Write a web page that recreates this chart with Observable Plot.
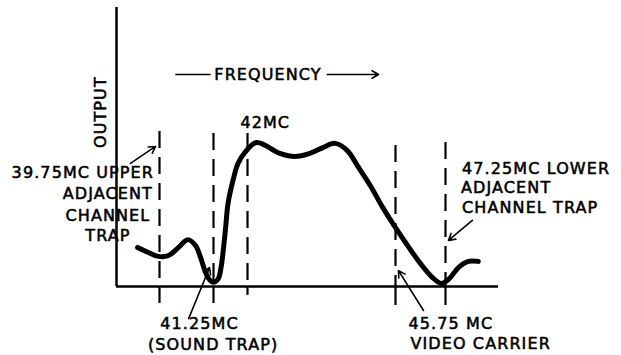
<!DOCTYPE html>
<html><head><meta charset="utf-8">
<script src="https://cdn.jsdelivr.net/npm/d3@7"></script>
<script src="https://cdn.jsdelivr.net/npm/@observablehq/plot@0.6"></script>
<style>
html,body{margin:0;padding:0;background:#fff;}
#chart svg text{letter-spacing:1.1px;}
</style></head><body><div id="chart"></div>
<script>
// Response curve (frequency in MC, relative output)
const curveFreq = [39.14, 39.44, 39.72, 40.0, 40.28, 40.53, 40.75, 40.89, 41.03, 41.11, 41.2, 41.29, 41.36, 41.42, 41.47, 41.52, 41.57, 41.68, 41.79, 41.94, 42.23, 42.82, 43.2, 43.58, 43.91, 44.22, 44.53, 44.78, 45.11, 45.44, 45.75, 46.5, 46.86, 47.13, 47.37, 47.64, 47.94, 48.24];
const curveOutput = [14.0, 12.2, 10.8, 11.1, 14.0, 16.8, 14.7, 10.4, 5.0, 2.9, 1.7, 1.7, 2.9, 7.2, 13.6, 21.5, 29.7, 38.0, 44.1, 48.0, 51.6, 47.7, 46.6, 47.7, 49.8, 51.3, 48.7, 43.4, 36.2, 28.0, 21.1, 8.2, 3.2, 1.1, 2.9, 6.8, 9.0, 9.0];

// Marker frequencies (dashed verticals)
const markFreq = [39.75, 41.25, 42, 45.75, 47.25];
const markTop = [55.6, 54.8, 54.8, 50.5, 51.6];
const markBottom = [-6.1, -6.1, -3.2, -6.8, -6.8];

// Axis extents
const freqExtent = [38.55, 48.85];
const outputExtent = [0, 100];

// Labels
const labelText = ["42MC", "39.75MC UPPER", "ADJACENT", "CHANNEL", "TRAP", "47.25MC LOWER", "ADJACENT", "CHANNEL TRAP", "41.25MC", "(SOUND TRAP)", "45.75 MC", "VIDEO CARRIER", "FREQUENCY"];
const labelFreq = [42.45, 37.61, 38.31, 38.31, 38.31, 47.75, 47.72, 47.75, 40.86, 41.24, 46.14, 46.2, 42.52];
const labelOut = [58.8, 40.9, 33.3, 25.4, 18.3, 42.3, 35.5, 28.3, -13.3, -21.1, -13.3, -20.4, 76];
const labelAnchor = ["middle", "middle", "middle", "middle", "middle", "start", "start", "start", "middle", "middle", "start", "start", "middle"];

// Leader arrows
const leaderFreq1 = [38.94, 40.56, 46.59, 48.06];
const leaderOut1 = [44.1, -11.5, -8.6, 23.7];
const leaderFreq2 = [39.64, 41.14, 45.84, 47.34];
const leaderOut2 = [50.2, 6.8, 5.7, 16.5];

// Frequency arrow
const freqArrowOut = 76;
const freqDash = [40.19, 41.17];
const freqArrow = [44.02, 45.32];

// Axis title
const yTitle = "OUTPUT";
const yTitleFreq = 38.10;
const yTitleOut = 62.5;

const curve = curveFreq.map((f, i) => ({f, o: curveOutput[i]}));
const marks = markFreq.map((f, i) => ({f, t: markTop[i], b: markBottom[i]}));
const labels = labelText.map((t, i) => ({t, f: labelFreq[i], o: labelOut[i], a: labelAnchor[i]}));
const leaders = leaderFreq1.map((f, i) => ({x1: f, y1: leaderOut1[i], x2: leaderFreq2[i], y2: leaderOut2[i]}));

const font = "DejaVu Sans, sans-serif";
const textStyle = {fill: "#000", stroke: "#000", strokeWidth: 0.55};
const plot = Plot.plot({
  width: 621,
  height: 355,
  style: {fontFamily: font, fontSize: "16px", color: "#000", background: "#fff"},
  x: {type: "linear", domain: [38.55, 39.75, 41.25, 42, 45.75, 47.25, 48.85], range: [116, 159, 213, 247, 395, 445, 498], axis: null},
  y: {domain: outputExtent, range: [286, 7], axis: null},
  marks: [
    Plot.ruleX([freqExtent[0]], {y1: outputExtent[0], y2: outputExtent[1], stroke: "#000", strokeWidth: 2.5}),
    Plot.ruleY([0], {x1: freqExtent[0], x2: freqExtent[1], stroke: "#000", strokeWidth: 2.5}),
    Plot.ruleX(marks, {x: "f", y1: "t", y2: 0, stroke: "#000", strokeWidth: 2.2, strokeDasharray: "17,9"}),
    Plot.ruleX(marks, {x: "f", y1: 0, y2: "b", stroke: "#000", strokeWidth: 2.2}),
    Plot.line(curve, {x: "f", y: "o", curve: "catmull-rom", stroke: "#000", strokeWidth: 5, strokeLinecap: "round", strokeLinejoin: "round"}),
    Plot.arrow(leaders, {x1: "x1", y1: "y1", x2: "x2", y2: "y2", stroke: "#000", strokeWidth: 1.6, headLength: 7}),
    Plot.link([freqDash], {x1: d => d[0], x2: d => d[1], y1: freqArrowOut, y2: freqArrowOut, stroke: "#000", strokeWidth: 1.6}),
    Plot.arrow([freqArrow], {x1: d => d[0], x2: d => d[1], y1: freqArrowOut, y2: freqArrowOut, stroke: "#000", strokeWidth: 1.6, headLength: 7}),
    Plot.text(labels.filter(d => d.a === "middle"), {x: "f", y: "o", text: "t", textAnchor: "middle", ...textStyle}),
    Plot.text(labels.filter(d => d.a === "start"), {x: "f", y: "o", text: "t", textAnchor: "start", ...textStyle}),
    Plot.text([yTitle], {x: yTitleFreq, y: yTitleOut, text: d => d, rotate: -90, ...textStyle})
  ]
});
document.getElementById("chart").appendChild(plot);
</script></body></html>
